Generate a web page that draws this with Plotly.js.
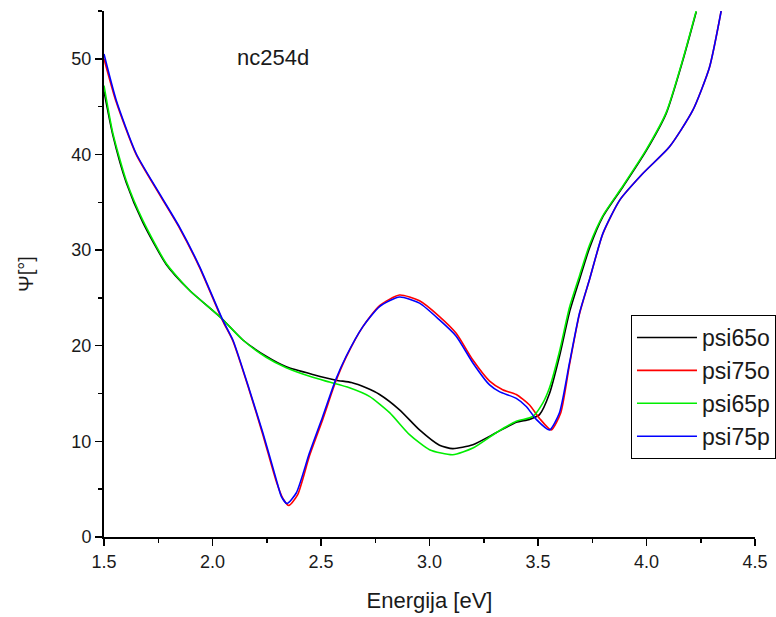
<!DOCTYPE html>
<html>
<head>
<meta charset="utf-8">
<script src="https://cdn.plot.ly/plotly-3.0.1.min.js"></script>
<style>html,body{margin:0;padding:0;background:#fff;}#chart{width:776px;height:617px;}</style>
</head>
<body>
<div id="chart"></div>
<script>
// psi65o (black)
const energy65o = [1.50, 1.541, 1.602, 1.679, 1.787, 1.894, 2.04, 2.14, 2.247, 2.34, 2.462, 2.57, 2.64, 2.708, 2.77, 2.862, 2.954, 3.046, 3.107, 3.2, 3.307, 3.4, 3.461, 3.507, 3.553, 3.599, 3.645, 3.691, 3.737, 3.799, 3.891, 3.999, 4.091, 4.167, 4.229];
const psi65o = [46.6, 42.0, 37.1, 32.9, 28.5, 25.8, 22.9, 20.6, 18.9, 17.8, 17.0, 16.4, 16.15, 15.6, 14.9, 13.3, 11.2, 9.6, 9.24, 9.65, 10.9, 12.0, 12.3, 12.8, 15.0, 18.9, 23.5, 26.9, 30.2, 33.5, 36.6, 40.4, 44.3, 49.8, 54.9];

// psi65p (green)
const energy65p = [1.50, 1.541, 1.602, 1.679, 1.787, 1.894, 2.04, 2.14, 2.247, 2.34, 2.462, 2.539, 2.631, 2.723, 2.816, 2.908, 3.0, 3.107, 3.2, 3.307, 3.4, 3.476, 3.522, 3.553, 3.599, 3.645, 3.691, 3.737, 3.799, 3.891, 3.999, 4.091, 4.167, 4.229];
const psi65p = [47.2, 42.2, 37.3, 33.1, 28.6, 25.8, 22.9, 20.6, 18.8, 17.7, 16.7, 16.2, 15.6, 14.7, 13.0, 10.7, 9.13, 8.6, 9.3, 10.9, 12.1, 12.6, 14.0, 15.6, 19.4, 24.0, 27.3, 30.5, 33.6, 36.7, 40.5, 44.4, 49.9, 55.0];

// psi75o (red)
const energy75o = [1.50, 1.556, 1.648, 1.756, 1.848, 1.94, 2.047, 2.094, 2.17, 2.232, 2.294, 2.325, 2.352, 2.392, 2.447, 2.508, 2.567, 2.616, 2.693, 2.77, 2.862, 2.954, 3.046, 3.123, 3.2, 3.277, 3.337, 3.4, 3.461, 3.507, 3.561, 3.605, 3.645, 3.691, 3.737, 3.799, 3.876, 3.983, 4.106, 4.213, 4.29, 4.344];
const psi75o = [50.0, 45.5, 40.0, 35.8, 32.3, 28.2, 22.6, 20.5, 15.3, 10.7, 5.8, 4.0, 3.3, 4.4, 8.5, 12.3, 16.2, 18.8, 22.0, 24.2, 25.3, 24.7, 23.05, 21.3, 18.5, 16.3, 15.4, 14.9, 13.8, 12.4, 11.2, 13.0, 18.0, 23.3, 26.9, 31.7, 35.2, 38.0, 40.8, 44.6, 49.1, 55.0];

// psi75p (blue)
const energy75p = [1.50, 1.556, 1.648, 1.756, 1.848, 1.94, 2.047, 2.094, 2.17, 2.232, 2.294, 2.317, 2.343, 2.386, 2.447, 2.508, 2.567, 2.616, 2.693, 2.77, 2.862, 2.954, 3.046, 3.123, 3.2, 3.277, 3.322, 3.4, 3.446, 3.492, 3.553, 3.599, 3.645, 3.691, 3.737, 3.799, 3.876, 3.983, 4.106, 4.213, 4.29, 4.344];
const psi75p = [50.5, 45.7, 40.1, 35.9, 32.4, 28.3, 22.7, 20.6, 15.4, 10.9, 6.0, 4.26, 3.5, 4.6, 8.8, 12.6, 16.4, 18.9, 22.0, 24.1, 25.1, 24.45, 22.7, 21.0, 18.2, 15.9, 15.2, 14.5, 13.65, 12.3, 11.2, 13.0, 18.2, 23.4, 26.9, 31.75, 35.2, 38.0, 40.8, 44.6, 49.1, 55.0];

const seriesNames = ['psi65o', 'psi75o', 'psi65p', 'psi75p'];
const xTickVals = [1.5, 2.0, 2.5, 3.0, 3.5, 4.0, 4.5];
const xTickText = ['1.5', '2.0', '2.5', '3.0', '3.5', '4.0', '4.5'];
const yTickVals = [0, 10, 20, 30, 40, 50];

const FONT = 'Liberation Sans, Arial, sans-serif';
function tr(x, y, name, color) {
  return {x: x, y: y, name: name, type: 'scatter', mode: 'lines',
    line: {color: color, width: 1.6, shape: 'spline', smoothing: 0.6}};
}
const data = [
  tr(energy65o, psi65o, seriesNames[0], '#000000'),
  tr(energy75o, psi75o, seriesNames[1], '#ff0000'),
  tr(energy65p, psi65p, seriesNames[2], '#00ee00'),
  tr(energy75p, psi75p, seriesNames[3], '#0000ff')
];

const layout = {
  width: 776, height: 617,
  margin: {l: 104, r: 21, t: 11, b: 80, autoexpand: false},
  paper_bgcolor: '#ffffff', plot_bgcolor: '#ffffff',
  font: {family: FONT, color: '#1a1a1a', size: 18},
  showlegend: true,
  legend: {
    x: 0.8095, y: 0.422, xanchor: 'left', yanchor: 'top',
    bgcolor: '#ffffff', bordercolor: '#000000', borderwidth: 1,
    font: {family: FONT, size: 23, color: '#1a1a1a'},
    itemwidth: 60, tracegroupgap: 0
  },
  xaxis: {
    range: [1.5, 4.5], tickmode: 'array', tickvals: xTickVals, ticktext: xTickText,
    ticks: 'outside', ticklen: 7, tickwidth: 1.5, tickcolor: '#000',
    minor: {dtick: 0.25, tick0: 1.5, ticks: 'outside', ticklen: 4, tickwidth: 1.5, tickcolor: '#000'},
    showline: true, linecolor: '#000', linewidth: 2, mirror: false,
    showgrid: false, zeroline: false,
    tickfont: {family: FONT, size: 18, color: '#1a1a1a'},
    title: {text: 'Energija [eV]', font: {family: FONT, size: 22, color: '#1a1a1a'}, standoff: 22}
  },
  yaxis: {
    range: [0, 55], tickmode: 'array', tickvals: yTickVals,
    ticks: 'outside', ticklen: 7, tickwidth: 1.5, tickcolor: '#000',
    minor: {dtick: 5, tick0: 0, ticks: 'outside', ticklen: 4, tickwidth: 1.5, tickcolor: '#000'},
    showline: true, linecolor: '#000', linewidth: 2, mirror: false,
    showgrid: false, zeroline: false,
    tickfont: {family: FONT, size: 18, color: '#1a1a1a'},
    title: {text: 'Ψ[°]', font: {family: FONT, size: 20, color: '#1a1a1a'}, standoff: 32}
  },
  annotations: [{
    text: 'nc254d', xref: 'paper', yref: 'paper', x: 0.259, y: 0.9125,
    xanchor: 'center', yanchor: 'middle', showarrow: false,
    font: {family: FONT, size: 22, color: '#1a1a1a'}
  }]
};

Plotly.newPlot('chart', data, layout, {staticPlot: true, displayModeBar: false});
</script>
</body>
</html>
